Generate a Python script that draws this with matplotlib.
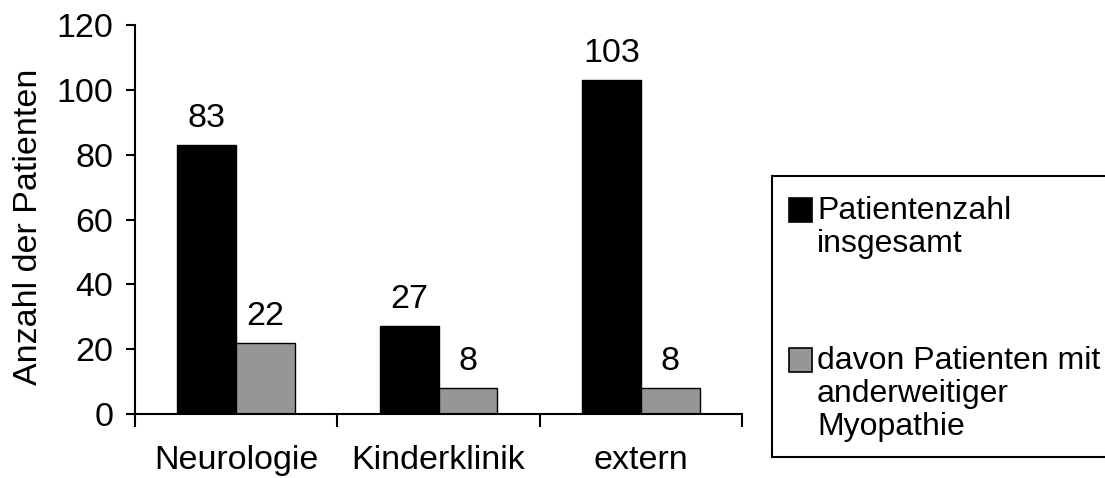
import matplotlib
matplotlib.use("Agg")
import matplotlib.pyplot as plt
from matplotlib.patches import Rectangle
import numpy as np

plt.rcParams['font.family'] = ['Liberation Sans', 'DejaVu Sans']

categories = ["Neurologie", "Kinderklinik", "extern"]
total_patients = [83, 27, 103]
other_myopathy = [22, 8, 8]
series_labels = ["Patientenzahl\ninsgesamt", "davon Patienten mit\nanderweitiger\nMyopathie"]
y_ticks = [0, 20, 40, 60, 80, 100, 120]

W, H = 1105, 478
FS = 24.5      # axis and value labels
FS_LEG = 23    # legend text
fig = plt.figure(figsize=(W / 100, H / 100), dpi=100)
ax = fig.add_axes([135 / W, 1 - 414 / H, (742 - 135) / W, (414 - 25) / H])

x = np.arange(len(categories))
w = 0.29
b1 = ax.bar(x - w / 2, total_patients, w, color="black", edgecolor="black", linewidth=1,
            label=series_labels[0])
b2 = ax.bar(x + w / 2, other_myopathy, w, color="#969696", edgecolor="black", linewidth=1,
            label=series_labels[1])

for bars, vals in ((b1, total_patients), (b2, other_myopathy)):
    for rect, v in zip(bars, vals):
        ax.annotate(str(v), (rect.get_x() + rect.get_width() / 2, v),
                    xytext=(0, 8), textcoords="offset points",
                    ha="center", va="bottom", fontsize=FS)

ax.set_xlim(-0.5, len(categories) - 0.5)
ax.set_ylim(0, 120)
ax.set_yticks(y_ticks)
ax.set_yticklabels([str(t) for t in y_ticks], fontsize=FS)
ax.set_xticks(x)
ax.set_xticklabels(categories, fontsize=FS)
ax.tick_params(axis="x", length=0, pad=22)
ax.set_xticks(np.arange(len(categories) + 1) - 0.5, minor=True)
ax.tick_params(axis="x", which="minor", length=9, width=1.5, direction="out")
ax.tick_params(axis="y", length=6.5, width=1.5, direction="out", pad=9)
for s in ("top", "right"):
    ax.spines[s].set_visible(False)
for s in ("left", "bottom"):
    ax.spines[s].set_linewidth(1.5)
ax.set_ylabel("Anzahl der Patienten", fontsize=FS)
ax.yaxis.set_label_coords(-0.15, 0.48)

# legend box with handles aligned to the first line of each label
fig.patches.append(Rectangle((772 / W, 1 - 457 / H), (W + 10 - 772) / W, (457 - 176) / H,
                             transform=fig.transFigure, facecolor="white",
                             edgecolor="black", linewidth=1.5, clip_on=False))
entries = [(b1, series_labels[0], 198), (b2, series_labels[1], 348)]
for bars, label, top in entries:
    r = bars[0]
    fig.patches.append(Rectangle((789 / W, 1 - (top + 24) / H), 23 / W, 24 / H,
                                 transform=fig.transFigure, facecolor=r.get_facecolor(),
                                 edgecolor="black", linewidth=1.2))
    fig.text(817 / W, 1 - (top - 2) / H, label, fontsize=FS_LEG, va="top", ha="left",
             linespacing=1.12)

fig.savefig("out.png", dpi=100)
